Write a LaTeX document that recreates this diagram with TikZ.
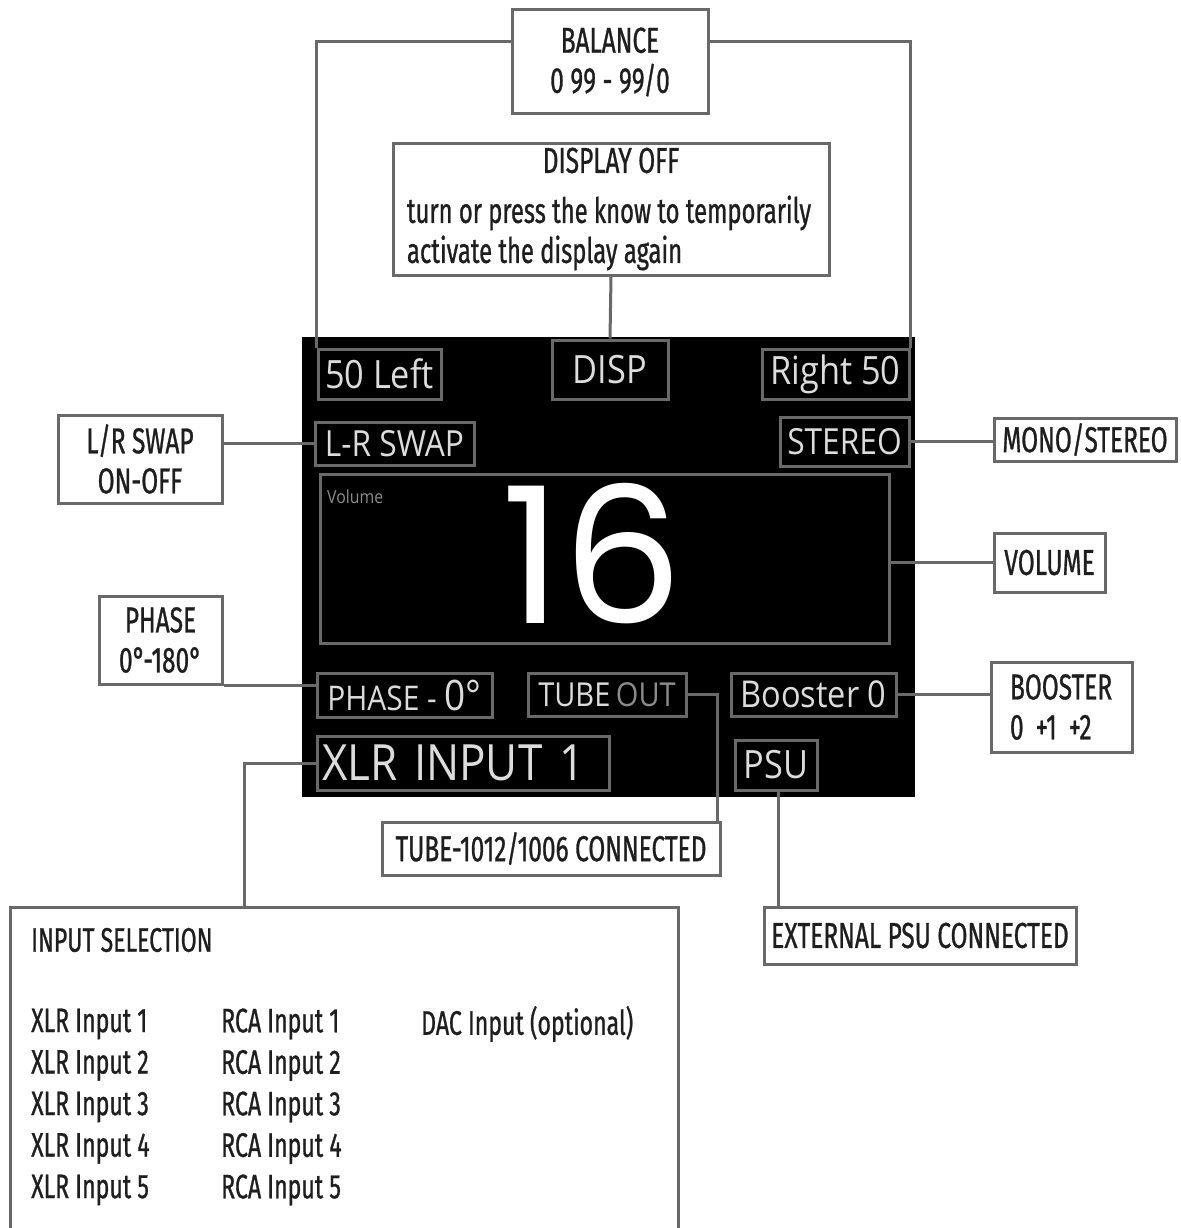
\documentclass[tikz,border=0pt]{standalone}
\usepackage{fontspec}
\setmainfont{Fira Sans}
\newfontfamily\calfont[FakeStretch=0.68, FakeBold=0.8]{Fira Sans}
\newfontfamily\lcdfont[FakeStretch=0.88]{Open Sans}
\newfontfamily\numfont{Poppins}
\usetikzlibrary{positioning,calc}
\definecolor{wiregray}{RGB}{105,105,105}
\definecolor{lcdwhite}{RGB}{220,220,220}
\definecolor{lcddim}{RGB}{140,140,140}
\definecolor{labelink}{RGB}{30,30,30}

\begin{document}
\begin{tikzpicture}[x=1pt, y=-1pt,
    callout/.style={draw=wiregray, line width=3pt, fill=white, text=labelink, inner sep=0pt, font=\calfont\fontsize{36}{40}\selectfont},
    lcd/.style={draw=wiregray, line width=3pt, text=lcdwhite, inner sep=0pt, font=\lcdfont\fontsize{39}{44}\selectfont},
    wire/.style={draw=wiregray, line width=3pt},
    listtext/.style={anchor=west, text=labelink, inner sep=0pt, font=\calfont\fontsize{34}{40}\selectfont}]
    \useasboundingbox (0,0) rectangle (1180,1228);

    % display
    \node[fill=black, minimum width=613pt, minimum height=460pt, inner sep=0pt] (screen) at (608.5,567) {};
    \node[lcd, minimum width=123pt, minimum height=50pt] (left) at (379.5,374) {50 Left};
    \node[lcd, minimum width=116pt, minimum height=59pt] (disp) at (610,369.5) {DISP};
    \node[lcd, minimum width=147pt, minimum height=50pt] (right) at (835.5,374) {Right 50};
    \node[lcd, font=\lcdfont\fontsize{36}{40}\selectfont, minimum width=159pt, minimum height=43pt] (lrs) at (394.5,443.5) {L-R SWAP};
    \node[lcd, font=\lcdfont\fontsize{36}{40}\selectfont, minimum width=129pt, minimum height=49pt] (stereo) at (844.5,441.5) {STEREO};
    \node[lcd, minimum width=569pt, minimum height=169pt] (volbox) at (604.5,558.5) {};
    \node[anchor=west, inner sep=0pt, text=lcddim, font=\lcdfont\fontsize{18}{20}\selectfont] (vollabel) at (327,497) {Volume};
    \node[text=white, inner sep=0pt, font=\numfont\fontsize{190}{190}\selectfont] (volnum) at (592,554) {16};
    \node[lcd, minimum width=175pt, minimum height=44pt] (phased) at (404.5,695) {\fontsize{34}{36}\selectfont PHASE - \fontsize{42}{44}\selectfont 0°};
    \node[lcd, font=\lcdfont\fontsize{33}{36}\selectfont, minimum width=158pt, minimum height=43pt] (tube) at (607,694.5) {TUBE\,\textcolor{lcddim}{OUT}};
    \node[lcd, font=\lcdfont\fontsize{37}{40}\selectfont, minimum width=165pt, minimum height=43pt] (boost) at (813.5,694.5) {Booster 0};
    \node[lcd, font=\lcdfont\fontsize{50}{56}\selectfont, minimum width=292pt, minimum height=54pt, text width=282pt, align=left] (xlr) at (463,763) {XLR INPUT 1};
    \node[lcd, minimum width=82pt, minimum height=50pt] (psu) at (776,765) {PSU};

    % callouts
    \node[callout, minimum width=196pt, minimum height=104pt, align=center] (balance) at (610,62) {BALANCE\\0 99 - 99/0};
    \node[callout, minimum width=436pt, minimum height=132pt, align=left] (dispoff) at (611,209)
        {\makebox[408pt][c]{DISPLAY OFF}\\[10pt]
         \fontsize{35}{33}\selectfont turn or press the know to temporarily\\
         \fontsize{35}{33}\selectfont activate the display again};
    \node[callout, minimum width=164pt, minimum height=88pt, align=center] (lrswap) at (140,459) {L/R SWAP\\ON-OFF};
    \node[callout, minimum width=123pt, minimum height=88pt, align=center] (phasecb) at (160.5,640) {PHASE\\0°-180°};
    \node[callout, minimum width=182pt, minimum height=43pt] (mono) at (1085,439.5) {MONO/STEREO};
    \node[callout, minimum width=111pt, minimum height=59pt] (volume) at (1049.5,562.5) {VOLUME};
    \node[callout, minimum width=141pt, minimum height=90pt, text width=103pt, align=left] (boostcb) at (1061.5,707) {BOOSTER\\0 +1 +2};
    \node[callout, minimum width=338pt, minimum height=53pt] (tubecb) at (551,848.5) {TUBE-1012/1006 CONNECTED};
    \node[callout, minimum width=312pt, minimum height=57pt] (extpsu) at (920,935.5) {EXTERNAL PSU CONNECTED};

    % input selection (open at the bottom)
    \node[minimum width=668pt, minimum height=323pt, inner sep=0pt, anchor=north west] (inp) at (10,907) {};
    \draw[wire] (inp.south west) -- (inp.north west) -- (inp.north east) -- (inp.south east);
    \node[listtext] (insel) at (31,940) {INPUT SELECTION};
    \foreach \i in {1,...,5} {
        \node[listtext] (xlrin\i) at (31,982.5+41.5*\i) {XLR Input \i};
        \node[listtext] (rcain\i) at (221,982.5+41.5*\i) {RCA Input \i};
    }
    \node[listtext] (dacin) at (421,1024) {DAC Input (optional)};

    % connectors
    \draw[wire] ([yshift=20pt]balance.west) -| (left.north west);
    \draw[wire] ([yshift=20pt]balance.east) -| (right.north east);
    \draw[wire] (dispoff.south) -- (disp.north);
    \draw[wire] (lrs.west) -- (lrs.west -| lrswap.east);
    \draw[wire] (phasecb.south east) -- (phasecb.south east -| phased.west);
    \draw[wire] (stereo.east) -- (stereo.east -| mono.west);
    \draw[wire] (volume.west) -- (volume.west -| volbox.east);
    \draw[wire] (boost.east) -- (boost.east -| boostcb.west);
    \draw[wire] (tube.east) -| ([xshift=-4pt]tubecb.north east);
    \draw[wire] ([xshift=2pt]psu.south) -- ([xshift=2pt]psu.south |- extpsu.north);
    \draw[wire] (xlr.west) -| ([xshift=-100pt]inp.north);
\end{tikzpicture}
\end{document}
